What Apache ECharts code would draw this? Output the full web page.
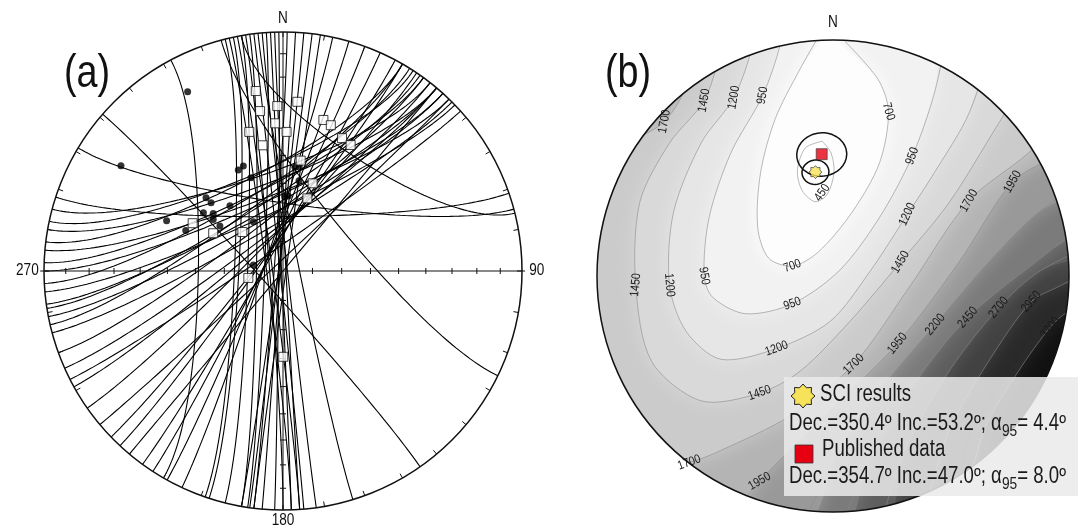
<!DOCTYPE html>
<html>
<head>
<meta charset="utf-8">
<title>SCI stereonets</title>
<script src="https://cdn.jsdelivr.net/npm/echarts@6/dist/echarts.min.js"></script>
<style>
html, body { margin: 0; padding: 0; background: #fff; }
#chart { width: 1084px; height: 529px; }
</style>
</head>
<body>
<div id="chart"></div>
<script>
// (a) small circles, given by the two azimuths (deg) where each meets the primitive
var smallCircleEnds = [
    [347, 178], [349, 176], [351, 180], [353, 175], [355, 172], [357, 178], [359, 182], [1, 187], [3, 185], [5, 188],
    [7, 190], [9, 187], [346, 199], [348, 198], [350, 194], [352, 190], [354, 163], [356, 188.5], [358, 176],
    [205, 12], [209, 16], [213, 20], [216, 24], [220, 40], [223, 28], [226, 30], [230, 44], [235, 34], [241, 38],
    [243, 48], [246, 40], [250, 36],
    [255, 45], [257, 30], [259, 42], [261, 35], [262, 40], [265, 46], [267, 32], [270, 42], [272, 36], [275, 44],
    [277, 30], [280, 40], [282, 33], [285, 38],
    [288, 71], [301, 75], [332, 210], [311, 145], [350, 76], [345, 116]
];
// (a) directions, equal-area x/y on a unit net (east, north)
var dotDirs = [
    [-0.399, 0.750], [-0.678, 0.440], [-0.487, 0.210], [-0.407, 0.169], [-0.322, 0.307], [-0.301, 0.286],
    [-0.333, 0.244], [-0.292, 0.241], [-0.292, 0.216], [-0.264, 0.188], [-0.222, 0.273], [-0.187, 0.423],
    [-0.166, 0.439], [-0.134, 0.390], [-0.124, 0.206], [-0.124, 0.025], [0.008, 0.311], [0.022, 0.314],
    [0.050, 0.434], [0.068, 0.436], [0.067, 0.378]
];
var squareDirs = [
    [-0.114, 0.753], [-0.096, 0.669], [-0.024, 0.690], [0.060, 0.708], [-0.033, 0.618], [-0.141, 0.582],
    [0.015, 0.582], [-0.085, 0.526], [0.169, 0.632], [0.200, 0.610], [0.247, 0.556], [0.283, 0.527],
    [0.074, 0.462], [0.124, 0.367], [0.102, 0.304], [-0.378, 0.200], [-0.292, 0.158], [-0.170, 0.163],
    [-0.145, -0.029], [0.001, -0.359]
];

// (b) mean directions
var sciResult = { dec: 350.4, inc: 53.2, a95: 4.4 };
var publishedResult = { dec: 354.7, inc: 47.0, a95: 8.0 };

// (b) contour lines, unit net coordinates
var contourLevels = [450, 700, 950, 1200, 1450, 1700, 1950, 2200, 2450, 2700, 2950, 3200];
var contour450 = [[-0.046, 0.571], [-0.008, 0.521], [0.004, 0.437], [-0.025, 0.345], [-0.076, 0.315], [-0.130, 0.361], [-0.151, 0.445], [-0.118, 0.542], [-0.046, 0.571]];
var contour700 = [[0.021, 1.025], [0.189, 0.836], [0.235, 0.697], [0.197, 0.479], [0.080, 0.269], [-0.063, 0.101], [-0.172, 0.042], [-0.273, 0.076], [-0.319, 0.206], [-0.307, 0.437], [-0.244, 0.668], [-0.139, 0.878], [-0.055, 1.025]];
var contour950 = [[0.492, 1.067], [0.429, 0.773], [0.336, 0.508], [0.197, 0.248], [0.029, 0.025], [-0.172, -0.118], [-0.370, -0.160], [-0.508, -0.092], [-0.546, 0.000], [-0.525, 0.248], [-0.433, 0.521], [-0.298, 0.765], [-0.223, 0.983], [-0.202, 1.151]];
var contour1200 = [[0.702, 1.067], [0.576, 0.689], [0.429, 0.437], [0.315, 0.261], [0.155, 0.017], [-0.013, -0.193], [-0.239, -0.307], [-0.475, -0.353], [-0.622, -0.235], [-0.693, -0.038], [-0.676, 0.269], [-0.559, 0.563], [-0.420, 0.756], [-0.340, 0.983], [-0.328, 1.151]];
var contour1450 = [[0.912, 0.983], [0.702, 0.647], [0.492, 0.311], [0.286, 0.059], [0.071, -0.193], [-0.139, -0.403], [-0.311, -0.496], [-0.559, -0.529], [-0.769, -0.361], [-0.836, -0.038], [-0.819, 0.311], [-0.693, 0.563], [-0.546, 0.744], [-0.483, 0.941], [-0.475, 1.151]];
var contour1700 = [[1.080, 0.773], [0.828, 0.521], [0.576, 0.319], [0.324, -0.046], [0.088, -0.374], [-0.181, -0.592], [-0.475, -0.739], [-0.609, -0.790], [-0.811, -0.824], [-1.105, -0.109], [-0.979, 0.479], [-0.714, 0.655], [-0.601, 0.857], [-0.559, 1.151]];
var contour1950 = [[1.164, 0.731], [0.954, 0.521], [0.761, 0.399], [0.534, 0.059], [0.273, -0.286], [-0.013, -0.571], [-0.311, -0.870], [-0.475, -1.076]];
var contour2200 = [[1.122, 0.437], [0.870, 0.269], [0.660, 0.059], [0.433, -0.206], [0.197, -0.487], [0.029, -0.739], [-0.139, -1.076]];
var contour2450 = [[1.122, 0.269], [0.912, 0.101], [0.571, -0.176], [0.324, -0.487], [0.155, -0.782], [0.029, -1.076]];
var contour2700 = [[1.122, 0.143], [0.870, 0.017], [0.702, -0.134], [0.492, -0.403], [0.303, -0.739], [0.197, -1.076]];
var contour2950 = [[1.122, 0.038], [0.954, -0.046], [0.840, -0.109], [0.660, -0.361], [0.492, -0.655], [0.366, -1.076]];
var contour3200 = [[1.122, -0.109], [0.996, -0.151], [0.920, -0.218], [0.786, -0.403], [0.639, -0.655], [0.534, -1.076]];
var contourLines = [contour450, contour700, contour950, contour1200, contour1450, contour1700,
    contour1950, contour2200, contour2450, contour2700, contour2950, contour3200];
// x, y, text, angle of the text (deg, counter-clockwise)
var contourLabels = [
    [-0.714, 0.655, '1700', 80], [-0.546, 0.744, '1450', 80], [-0.420, 0.756, '1200', 80], [-0.298, 0.765, '950', 80],
    [0.235, 0.697, '700', -75], [0.336, 0.508, '950', 70], [0.761, 0.399, '1950', 60], [0.576, 0.319, '1700', 60],
    [0.315, 0.261, '1200', 65], [-0.046, 0.353, '450', 55], [0.286, 0.059, '1450', 60],
    [-0.172, 0.042, '700', 20], [-0.172, -0.118, '950', 20], [-0.239, -0.307, '1200', 20], [-0.311, -0.496, '1450', 20],
    [0.088, -0.374, '1700', 45], [0.273, -0.286, '1950', 50], [0.433, -0.206, '2200', 50], [0.571, -0.176, '2450', 50],
    [0.702, -0.134, '2700', 50], [0.840, -0.109, '2950', 50], [0.920, -0.218, '3200', 50],
    [-0.836, -0.038, '1450', 85], [-0.693, -0.038, '1200', -85], [-0.546, 0.0, '950', -80],
    [-0.609, -0.790, '1700', 20], [-0.311, -0.870, '1950', 30]
];

var RAD = Math.PI / 180;
var FONT = "'Liberation Sans', Arial, Helvetica, sans-serif";
var bandFill = ['#ffffff', '#fdfdfd', '#f2f2f2', '#e6e6e6', '#d9d9d9', '#cbcbcb', '#b4b4b4',
    '#999999', '#7b7b7b', '#5e5e5e', '#424242', '#2a2a2a'];
var baseFill = '#121212';

// lower hemisphere equal-area projection of [east, north, down]
function project(v) {
    var h = Math.sqrt(v[0] * v[0] + v[1] * v[1]);
    var r = Math.sqrt(Math.max(0, 1 - v[2]));
    if (h < 1e-9) return [0, 0];
    return [r * v[0] / h, r * v[1] / h];
}
function dirVec(dec, inc) {
    return [Math.cos(inc * RAD) * Math.sin(dec * RAD), Math.cos(inc * RAD) * Math.cos(dec * RAD), Math.sin(inc * RAD)];
}
// small circle about a horizontal axis, through the two primitive azimuths
function smallCirclePath(e1, e2) {
    var d = ((e2 - e1) % 360 + 360) % 360;
    if (d > 180) { d = 360 - d; e1 = e2; }
    var m = (e1 + d / 2) * RAD, g = d / 2 * RAD;
    var a = [Math.sin(m), Math.cos(m), 0], b = [Math.cos(m), -Math.sin(m), 0];
    var pts = [];
    for (var k = 0; k <= 90; k++) {
        var t = Math.PI * k / 90;
        pts.push(project([
            Math.cos(g) * a[0] + Math.sin(g) * Math.cos(t) * b[0],
            Math.cos(g) * a[1] + Math.sin(g) * Math.cos(t) * b[1],
            Math.sin(g) * Math.sin(t)
        ]));
    }
    return pts;
}
function conePath(dec, inc, alpha) {
    var u = dirVec(dec, inc);
    var p = [Math.cos(dec * RAD), -Math.sin(dec * RAD), 0];
    var q = [u[1] * p[2] - u[2] * p[1], u[2] * p[0] - u[0] * p[2], u[0] * p[1] - u[1] * p[0]];
    var ca = Math.cos(alpha * RAD), sa = Math.sin(alpha * RAD), pts = [];
    for (var k = 0; k <= 72; k++) {
        var t = 2 * Math.PI * k / 72;
        pts.push(project([0, 1, 2].map(function (i) {
            return ca * u[i] + sa * (Math.cos(t) * p[i] + Math.sin(t) * q[i]);
        })));
    }
    return pts;
}
function closeContour(line) {
    var pts = line.slice();
    var s = line[0], e = line[line.length - 1];
    if (Math.sqrt(s[0] * s[0] + s[1] * s[1]) > 1) {
        if (e[1] < 0) pts.push([-1.1, -1.1]);
        pts.push([-1.1, 1.1], [1.1, 1.1]);
    }
    return pts;
}
function starPoints(cx, cy, r) {
    var pts = [];
    for (var k = 0; k < 16; k++) {
        var ang = k * Math.PI / 8 - Math.PI / 2;
        var rr = k % 2 === 0 ? r : r * 0.74;
        pts.push([cx + rr * Math.cos(ang), cy + rr * Math.sin(ang)]);
    }
    return pts;
}
var starSymbol = 'path://' + starPoints(10, 10, 10).map(function (p, i) {
    return (i ? 'L' : 'M') + p[0].toFixed(2) + ' ' + p[1].toFixed(2);
}).join('') + 'Z';

var measureCtx = document.createElement('canvas').getContext('2d');
function textWidth(text, size) {
    measureCtx.font = size + 'px ' + FONT;
    return measureCtx.measureText(text).width;
}

function netText(x, y, text, size, align) {
    return {
        type: 'text', x: x, y: y, scaleX: 0.85,
        style: { text: text, fontSize: size, fontFamily: FONT, fill: '#111', align: align, verticalAlign: 'middle' }
    };
}

function frameA(params, api) {
    var c = api.coord([0, 0]);
    var R = api.coord([1, 0])[0] - c[0];
    var ch = [];
    var ink = { stroke: '#111', lineWidth: 1 };
    ch.push({ type: 'circle', shape: { cx: c[0], cy: c[1], r: R }, style: { fill: 'none', stroke: '#111', lineWidth: 1.5 } });
    ch.push({ type: 'line', shape: { x1: c[0] - R * 1.016, y1: c[1], x2: c[0] + R * 1.013, y2: c[1] }, style: ink });
    ch.push({ type: 'line', shape: { x1: c[0], y1: c[1] - R, x2: c[0], y2: c[1] + R }, style: ink });
    for (var a = 0; a < 360; a += 10) {
        var s = Math.sin(a * RAD), co = Math.cos(a * RAD);
        ch.push({ type: 'line', shape: { x1: c[0] + s * R, y1: c[1] - co * R, x2: c[0] + s * (R - 5), y2: c[1] - co * (R - 5) }, style: ink });
    }
    for (var p = 10; p < 90; p += 10) {
        var d = Math.SQRT2 * Math.sin((90 - p) / 2 * RAD) * R;
        [-1, 1].forEach(function (sg) {
            ch.push({ type: 'line', shape: { x1: c[0] + sg * d, y1: c[1] - 3, x2: c[0] + sg * d, y2: c[1] + 3 }, style: ink });
            ch.push({ type: 'line', shape: { x1: c[0] - 3, y1: c[1] + sg * d, x2: c[0] + 3, y2: c[1] + sg * d }, style: ink });
        });
    }
    ch.push(netText(c[0], c[1] - R * 1.056, 'N', 16, 'center'));
    ch.push(netText(c[0], c[1] + R * 1.045, '180', 16, 'center'));
    ch.push(netText(c[0] - R * 1.022, c[1], '270', 16, 'right'));
    ch.push(netText(c[0] + R * 1.03, c[1], '90', 16, 'left'));
    return { type: 'group', children: ch };
}

function frameB(params, api) {
    var c = api.coord([0, 0]);
    var R = api.coord([1, 0])[0] - c[0];
    return {
        type: 'group', children: [
            { type: 'circle', shape: { cx: c[0], cy: c[1], r: R }, style: { fill: 'none', stroke: '#111', lineWidth: 1.5 } },
            netText(c[0], c[1] - R * 1.075, 'N', 16, 'center')
        ]
    };
}

function maskB(params, api) {
    var c = api.coord([0, 0]);
    var R = api.coord([1, 0])[0] - c[0];
    var x0 = c[0] - R - 4, y0 = c[1] - R - 4, x1 = c[0] + R + 4, y1 = c[1] + R + 4;
    var d = 'M' + x0 + ' ' + y0 + 'L' + x1 + ' ' + y0 + 'L' + x1 + ' ' + y1 + 'L' + x0 + ' ' + y1 + 'Z' +
        'M' + (c[0] - R) + ' ' + c[1] + 'A' + R + ' ' + R + ' 0 1 0 ' + (c[0] + R) + ' ' + c[1] +
        'A' + R + ' ' + R + ' 0 1 0 ' + (c[0] - R) + ' ' + c[1] + 'Z';
    return { type: 'path', shape: { pathData: d }, style: { fill: '#fff' } };
}

var bandOrder = contourLevels.map(function (l, i) { return i; }).reverse();

var series = [];
smallCircleEnds.forEach(function (e) {
    series.push({
        type: 'line', xAxisIndex: 0, yAxisIndex: 0, data: smallCirclePath(e[0], e[1]),
        symbol: 'none', silent: true, z: 3, lineStyle: { color: '#000', width: 1.1 }
    });
});
series.push({ type: 'custom', xAxisIndex: 0, yAxisIndex: 0, data: [[0, 0]], renderItem: frameA, silent: true, z: 4 });
series.push({
    type: 'scatter', xAxisIndex: 0, yAxisIndex: 0, data: dotDirs, symbol: 'circle', symbolSize: 7,
    itemStyle: { color: '#000' }, silent: true, z: 5
});
series.push({
    type: 'scatter', xAxisIndex: 0, yAxisIndex: 0, data: squareDirs, symbol: 'rect', symbolSize: 9,
    itemStyle: { color: '#fff', borderColor: '#111', borderWidth: 1 }, silent: true, z: 6
});

// (b) shaded misfit map
series.push({
    type: 'custom', xAxisIndex: 1, yAxisIndex: 1, clip: true, silent: true, z: 1,
    data: bandOrder.map(function () { return [0, 0]; }),
    renderItem: function (params, api) {
        var i = bandOrder[params.dataIndex];
        var pts = closeContour(contourLines[i]).map(function (p) { return api.coord(p); });
        var el = {
            type: 'polygon', shape: { points: pts, smooth: 0.3 },
            style: { fill: bandFill[i], shadowBlur: 18, shadowColor: bandFill[i] }
        };
        if (params.dataIndex === 0) {
            var c = api.coord([0, 0]), R = api.coord([1, 0])[0] - c[0];
            return { type: 'group', children: [{ type: 'circle', shape: { cx: c[0], cy: c[1], r: R + 3 }, style: { fill: baseFill } }, el] };
        }
        return el;
    }
});
series.push({
    type: 'custom', xAxisIndex: 1, yAxisIndex: 1, clip: true, silent: true, z: 2,
    data: contourLines.map(function () { return [0, 0]; }),
    renderItem: function (params, api) {
        return {
            type: 'polyline',
            shape: { points: contourLines[params.dataIndex].map(function (p) { return api.coord(p); }), smooth: 0.3 },
            style: { fill: 'none', stroke: '#8a8a8a', lineWidth: 0.6 }
        };
    }
});
series.push({ type: 'custom', xAxisIndex: 1, yAxisIndex: 1, data: [[0, 0]], renderItem: maskB, silent: true, z: 3 });
series.push({
    type: 'custom', xAxisIndex: 1, yAxisIndex: 1, silent: true, z: 4,
    data: contourLabels.map(function (l) { return [l[0], l[1]]; }),
    renderItem: function (params, api) {
        var l = contourLabels[params.dataIndex];
        var p = api.coord([l[0], l[1]]);
        return {
            type: 'text', x: p[0], y: p[1], rotation: l[3] * RAD, scaleX: 0.85,
            style: { text: l[2], fontSize: 12.5, fontFamily: FONT, fill: '#1a1a1a', align: 'center', verticalAlign: 'middle' }
        };
    }
});
series.push({ type: 'custom', xAxisIndex: 1, yAxisIndex: 1, data: [[0, 0]], renderItem: frameB, silent: true, z: 5 });
[publishedResult, sciResult].forEach(function (r) {
    series.push({
        type: 'line', xAxisIndex: 1, yAxisIndex: 1, data: conePath(r.dec, r.inc, r.a95),
        symbol: 'none', silent: true, z: 6, lineStyle: { color: '#111', width: 1.5 }
    });
});
series.push({
    type: 'scatter', xAxisIndex: 1, yAxisIndex: 1, silent: true, z: 7,
    data: [project(dirVec(publishedResult.dec, publishedResult.inc))], symbol: 'rect', symbolSize: 11,
    itemStyle: { color: '#e60012', borderColor: '#333', borderWidth: 0.8 }
});
series.push({
    type: 'scatter', xAxisIndex: 1, yAxisIndex: 1, silent: true, z: 7,
    data: [project(dirVec(sciResult.dec, sciResult.inc))], symbol: starSymbol, symbolSize: 13,
    itemStyle: { color: '#f7e35a', borderColor: '#222', borderWidth: 0.8 }
});

// legend texts (narrowed Arial look)
var LEG_SIZE = 23, SUB_SIZE = 17, LEG_SCALE = 0.81;
function legendText(x, y, text, size) {
    return {
        type: 'text', x: x, y: y, z: 101, scaleX: LEG_SCALE,
        style: { text: text, fontSize: size, fontFamily: FONT, fill: '#1a1a1a', align: 'left', verticalAlign: 'middle' }
    };
}
function decLine(x, y, r) {
    var head = 'Dec.=' + r.dec.toFixed(1) + 'º Inc.=' + r.inc.toFixed(1) + 'º; α';
    var x1 = x + textWidth(head, LEG_SIZE) * LEG_SCALE;
    var x2 = x1 + textWidth('95', SUB_SIZE) * LEG_SCALE;
    return [
        legendText(x, y, head, LEG_SIZE),
        legendText(x1, y + 7, '95', SUB_SIZE),
        legendText(x2, y, '= ' + r.a95.toFixed(1) + 'º', LEG_SIZE)
    ];
}

var graphics = [
    { type: 'rect', z: 100, shape: { x: 784, y: 377, width: 294, height: 119 }, style: { fill: 'rgba(234,234,234,0.86)' } },
    { type: 'polygon', z: 101, shape: { points: starPoints(803, 396, 12) }, style: { fill: '#f7e35a', stroke: '#222', lineWidth: 1 } },
    legendText(820, 395, 'SCI results', LEG_SIZE),
    { type: 'rect', z: 101, shape: { x: 795, y: 445, width: 18, height: 18 }, style: { fill: '#e60012', stroke: '#333', lineWidth: 0.8 } },
    legendText(822, 450, 'Published data', LEG_SIZE),
    { type: 'text', z: 101, x: 87, y: 74, scaleX: 0.82, style: { text: '(a)', fontSize: 46, fontFamily: FONT, fill: '#111', align: 'center', verticalAlign: 'middle' } },
    { type: 'text', z: 101, x: 628, y: 74, scaleX: 0.82, style: { text: '(b)', fontSize: 46, fontFamily: FONT, fill: '#111', align: 'center', verticalAlign: 'middle' } }
].concat(decLine(789, 424, sciResult), decLine(789, 477, publishedResult));

var chart = echarts.init(document.getElementById('chart'));
chart.setOption({
    animation: false,
    grid: [
        { left: 44, top: 32, width: 478, height: 478 },
        { left: 597, top: 40, width: 472, height: 472 }
    ],
    xAxis: [
        { gridIndex: 0, type: 'value', min: -1, max: 1, show: false },
        { gridIndex: 1, type: 'value', min: -1, max: 1, show: false }
    ],
    yAxis: [
        { gridIndex: 0, type: 'value', min: -1, max: 1, show: false },
        { gridIndex: 1, type: 'value', min: -1, max: 1, show: false }
    ],
    series: series,
    graphic: graphics
});
</script>
</body>
</html>
